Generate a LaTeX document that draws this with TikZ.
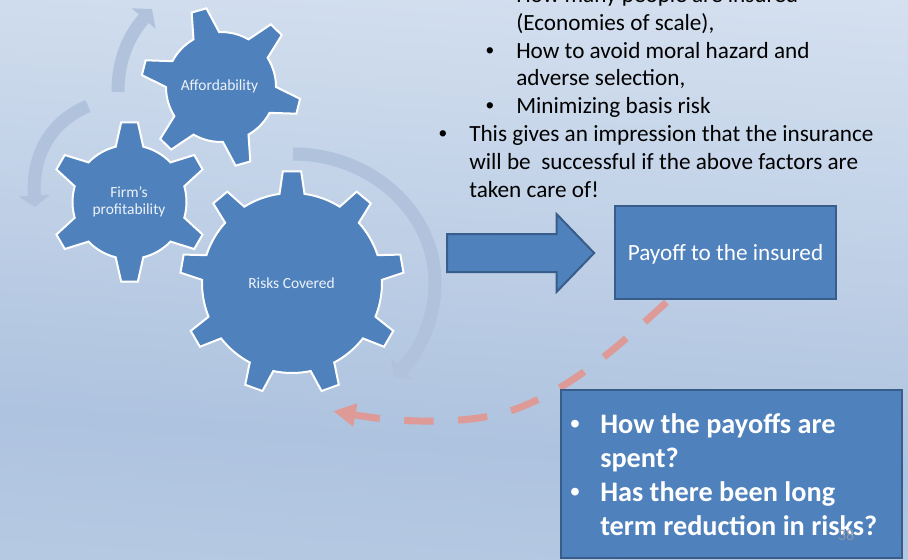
\documentclass[tikz,border=0pt]{standalone}
\usepackage{fontspec}
\setmainfont{Carlito}
\newfontfamily\bulletfont{Liberation Sans}
\usetikzlibrary{arrows.meta,shapes.arrows}
\definecolor{gearblue}{HTML}{4F81BD}
\definecolor{edgeblue}{HTML}{385D8A}
\definecolor{swirl}{HTML}{B0C2DC}
\definecolor{dashred}{HTML}{DD9A97}
\definecolor{pagegray}{HTML}{8C97A8}
\definecolor{bgbottom}{HTML}{C4D5EA}
\definecolor{bgmiddle}{HTML}{AEC3DF}
\definecolor{bgtop}{HTML}{EBF1F9}
\pgfdeclareverticalshading{slidebg}{100bp}{
  color(0bp)=(bgbottom);
  color(36bp)=(bgmiddle);
  color(100bp)=(bgtop)}
\newcommand{\px}{0.75pt}
% centre x, centre y, body radius, tip radius, first tooth, teeth, half base, half tip
\newcommand{\gear}[8]{
  \begin{scope}[shift={(#1,#2)},x=\px,y=\px]
    \draw[gearshape] ({#5-#7}:#3)
      \foreach \t [evaluate=\t as \a using #5+\t*360/#6] in {1,...,#6} {
        -- ({\a-360/#6-#7}:#3) -- ({\a-360/#6-#8}:#4) -- ({\a-360/#6+#8}:#4) -- ({\a-360/#6+#7}:#3)
        arc[start angle={\a-360/#6+#7}, delta angle={360/#6-2*#7}, radius=#3]
      } -- cycle;
  \end{scope}
}

\begin{document}
\begin{tikzpicture}[x=\px,y=-\px,
    gearshape/.style={draw=white, line width=1.5pt, fill=gearblue, line join=miter},
    gearlabel/.style={text=white!90!gearblue, align=center, inner sep=0pt, font=\fontsize{11.6}{12.8}\selectfont},
    box/.style={draw=edgeblue, line width=1.5pt, fill=gearblue, inner sep=0pt},
    line/.style={anchor=base west, inner sep=0pt, text=black, font=\fontsize{17.4}{20}\selectfont},
    boxline/.style={anchor=base west, inner sep=0pt, text=white, font=\fontsize{21.2}{24}\selectfont\bfseries},
    dot/.style={anchor=base, inner sep=0pt, font=\fontsize{17.4}{20}\bulletfont},
    swirlarrow/.style={draw=swirl, line width=9.75pt}]
    \useasboundingbox (0,0) rectangle (908,560);
    \clip (0,0) rectangle (908,560);
    \shade[shading=slidebg, shading angle=-4] (0,0) rectangle (908,560);

    % Swirls round the gears
    \coordinate (swirl-1-start) at (293,154);
    \coordinate (swirl-1-end) at (394,377);
    \coordinate (swirl-2-start) at (118,92);
    \coordinate (swirl-2-end) at (152,9);
    \coordinate (swirl-3-start) at (88,106);
    \coordinate (swirl-3-end) at (35,207);
    \draw[swirlarrow, -{Triangle[width=23pt,length=8.5pt]}] (swirl-1-start) .. controls (371,154) and (435,212) .. (435,283) .. controls (435,316) and (422,349) .. (swirl-1-end);
    \draw[swirlarrow, -{Triangle[width=23pt,length=9.5pt]}] (swirl-2-start) .. controls (118,62) and (127,38) .. (swirl-2-end);
    \draw[swirlarrow, -{Triangle[width=23pt,length=8.5pt]}] (swirl-3-start) .. controls (50,122) and (32,155) .. (swirl-3-end);

    % Gears
    \gear{221}{87}{55}{80}{106}{6}{14}{5.5}
    \gear{129.5}{202}{57}{80}{90}{6}{14}{6}
    \gear{292}{283}{90}{112}{90}{9}{8}{4.7}
    \node[gearlabel] (affordability) at (219.5,86.5) {Affordability};
    \node[gearlabel] (firm) at (129,202) {Firm’s\\profitability};
    \node[gearlabel] (risks) at (291.5,283) {Risks Covered};

    % Dashed way back
    \node[box, minimum width=221*\px, minimum height=93*\px, text=white, text depth=0pt, font=\fontsize{17.4}{20}\selectfont] (payoff) at (725.5,252.5) {Payoff to the insured};
    \coordinate (way-back) at (333,411);
    \draw[draw=dashred, line width=5.25pt, dash pattern=on 22pt off 18.4pt, dash phase=37.9pt, -{Triangle[width=16.5pt,length=17pt]}] (payoff.220) .. controls (625,340) and (575,388) .. (513,410) .. controls (470,425) and (400,423) .. (way-back);
    \node[box, single arrow, shape border rotate=0, inner xsep=0pt, inner ysep=18*\px, minimum height=147*\px, single arrow head extend=20*\px, single arrow tip angle=92] (bigarrow) at (511.5,253) {};
    \node[box, minimum width=341*\px, minimum height=168*\px] (questions) at (731.5,474) {};

    % Text top right
    \node[line] (line-1) at (516,3) {How many people are insured};
    \node[line] (line-2) at (516,31) {(Economies of scale),};
    \node[line] (line-3) at (516,59) {How to avoid moral hazard and};
    \node[line] (line-4) at (516,86) {adverse selection,};
    \node[line] (line-5) at (516,114) {Minimizing basis risk};
    \node[line] (line-6) at (469,142) {This gives an impression that the insurance};
    \node[line] (line-7) at (469,170) {will be~ successful if the above factors are};
    \node[line] (line-8) at (469,198) {taken care of!};
    \node[dot] (dot-1) at (490,59) {•};
    \node[dot] (dot-2) at (490,114) {•};
    \node[dot] (dot-3) at (443,142) {•};

    % Text in the lower box
    \node[boxline] (boxline-1) at (600,433) {How the payoffs are};
    \node[boxline] (boxline-2) at (600,467) {spent?};
    \node[boxline] (boxline-3) at (600,501) {Has there been long};
    \node[boxline] (boxline-4) at (600,535) {term reduction in risks?};
    \node[dot, text=white, font=\fontsize{21.2}{24}\bulletfont] (dot-4) at (575,433) {•};
    \node[dot, text=white, font=\fontsize{21.2}{24}\bulletfont] (dot-5) at (575,501) {•};
    \node[anchor=center, inner sep=0pt, text=pagegray, font=\fontsize{12}{13}\selectfont] (page) at (846,535) {38};
\end{tikzpicture}
\end{document}
